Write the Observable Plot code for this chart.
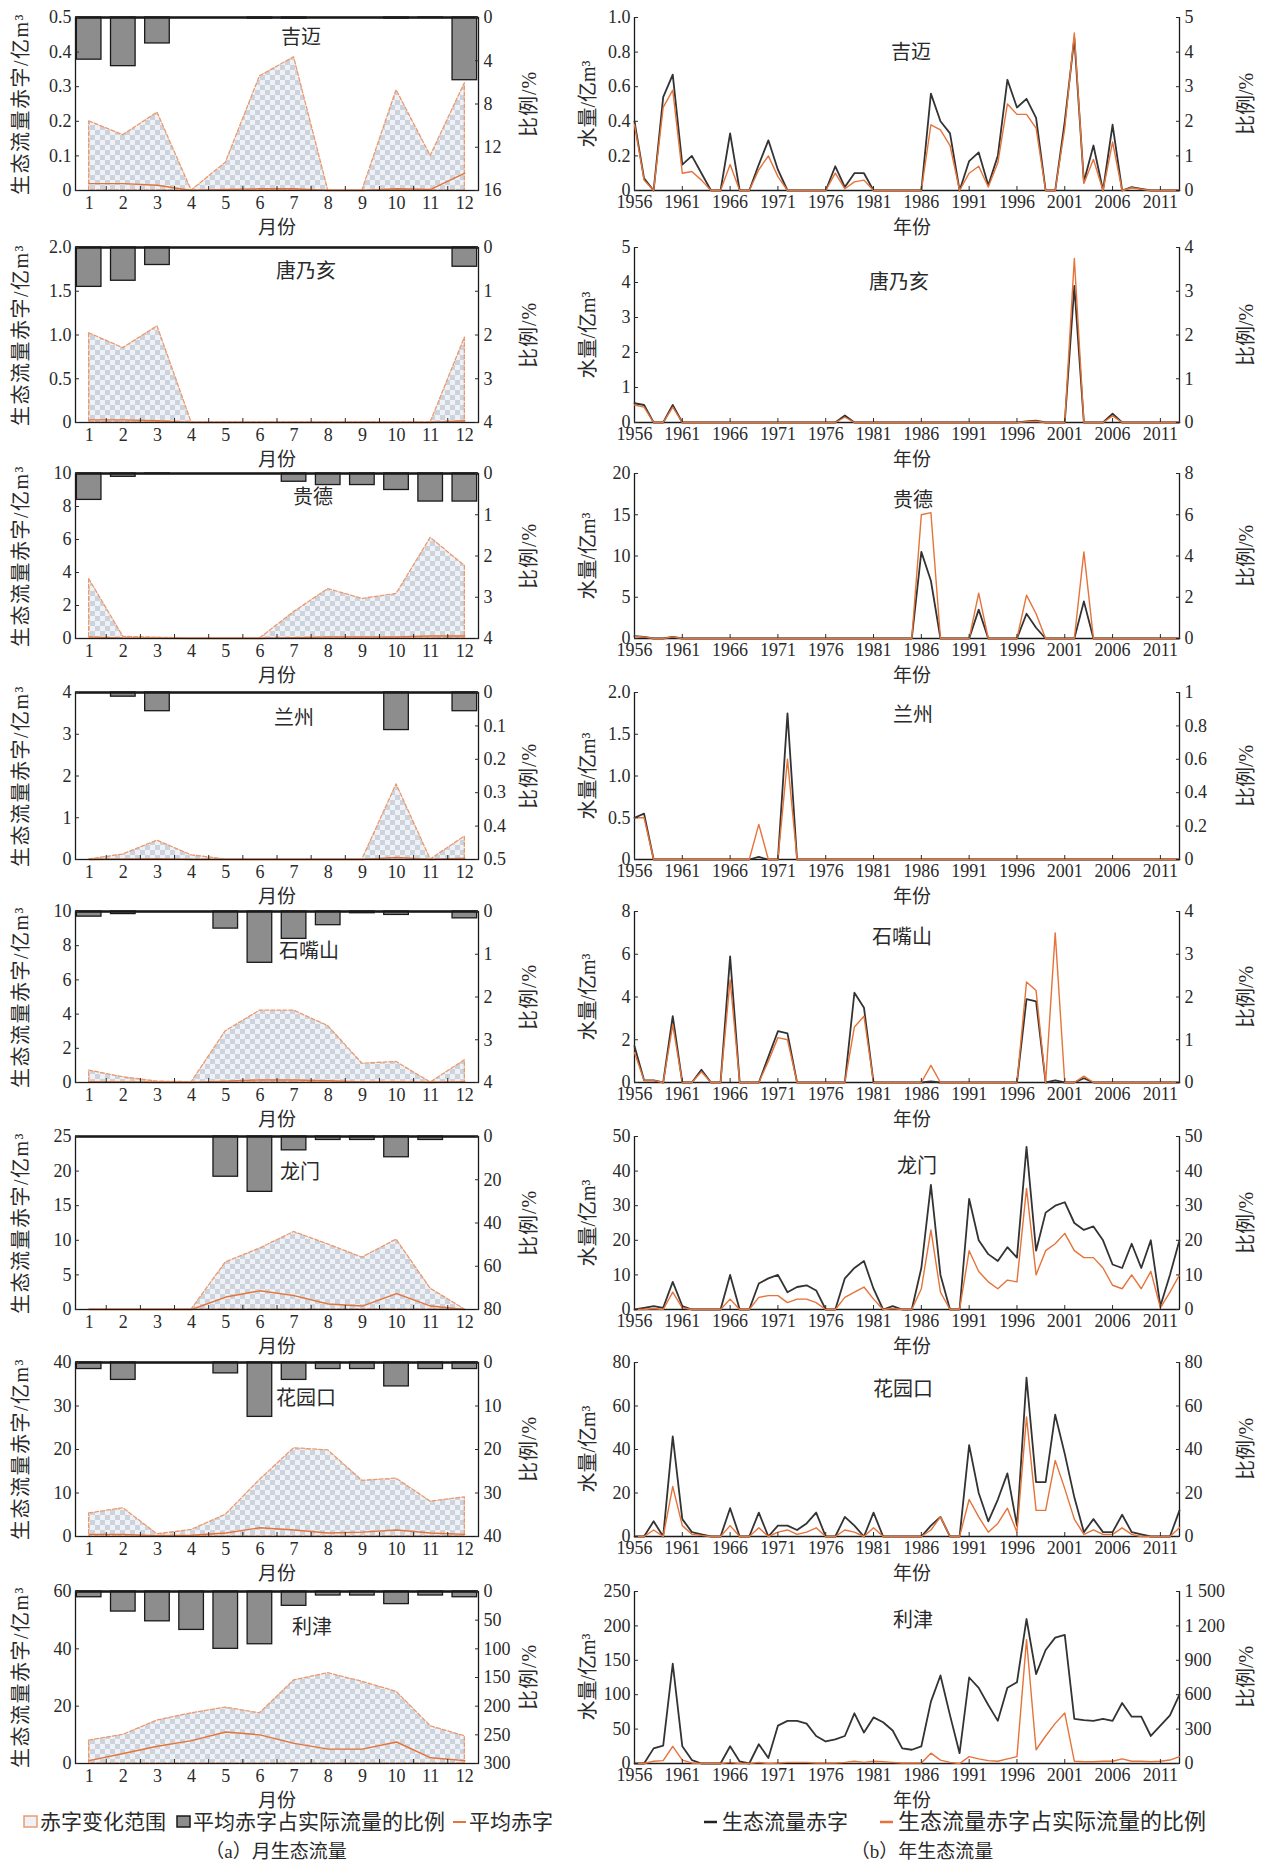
<!DOCTYPE html>
<html><head><meta charset="utf-8">
<script src="https://cdn.jsdelivr.net/npm/d3@7"></script>
<script src="https://cdn.jsdelivr.net/npm/@observablehq/plot@0.6"></script>
<style>
body{margin:0;background:#fff;}
#root{position:relative;width:1274px;height:1865px;background:#fff;overflow:hidden;font-family:"Liberation Serif","Noto Sans CJK SC",serif;color:#2a2a2a;}
.abs{position:absolute;white-space:nowrap;line-height:1;}
svg{position:absolute;overflow:visible;}
</style></head><body><div id="root"></div>
<script>
// ---------- categories ----------
const stations = ["吉迈","唐乃亥","贵德","兰州","石嘴山","龙门","花园口","利津"];
const months = [1,2,3,4,5,6,7,8,9,10,11,12];
const years = d3.range(1956, 2014); // 1956–2013

// ---------- monthly (a): max deficit (range), mean deficit, ratio % ----------
const jimaiMonMax   = [0.20,0.16,0.225,0,0.08,0.33,0.385,0,0,0.29,0.10,0.31];
const jimaiMonMean  = [0.02,0.02,0.015,0,0.003,0.005,0.005,0,0,0.005,0.003,0.05];
const jimaiMonRatio = [3.9,4.5,2.4,0,0,0.1,0.1,0,0,0.1,0.05,5.8];
const tangMonMax    = [1.02,0.85,1.10,0,0,0,0,0,0,0,0,0.97];
const tangMonMean   = [0.03,0.03,0.02,0,0,0,0,0,0,0,0,0.02];
const tangMonRatio  = [0.9,0.76,0.4,0,0,0,0,0,0,0,0,0.44];
const guideMonMax   = [3.6,0.1,0.05,0,0,0,1.6,3.0,2.4,2.7,6.1,4.4];
const guideMonMean  = [0.1,0.02,0.01,0,0,0,0.05,0.1,0.1,0.1,0.15,0.15];
const guideMonRatio = [0.64,0.08,0.01,0,0,0,0.2,0.28,0.28,0.4,0.68,0.68];
const lanzMonMax    = [0,0.12,0.45,0.1,0,0,0,0,0,1.8,0,0.55];
const lanzMonMean   = [0,0.01,0.02,0,0,0,0,0,0,0.05,0,0.03];
const lanzMonRatio  = [0,0.0125,0.056,0,0,0,0,0,0,0.1125,0,0.056];
const szsMonMax     = [0.7,0.3,0.05,0.02,3.0,4.2,4.2,3.3,1.1,1.2,0,1.3];
const szsMonMean    = [0.05,0.03,0,0,0.08,0.15,0.15,0.1,0.03,0.05,0,0.05];
const szsMonRatio   = [0.12,0.06,0,0,0.4,1.2,0.64,0.32,0.04,0.08,0,0.16];
const lmMonMax      = [0,0,0,0,6.8,8.8,11.2,9.4,7.5,10.1,3.0,0];
const lmMonMean     = [0,0,0,0,1.8,2.7,2.0,0.8,0.5,2.3,0.5,0];
const lmMonRatio    = [0,0,0,0,18.6,25.6,6.4,1.6,1.6,9.6,1.6,0];
const hykMonMax     = [5.3,6.5,0.5,1.5,5.0,13,20.3,19.8,12.8,13.3,8,9];
const hykMonMean    = [0.5,0.5,0.2,0.3,0.8,2.0,1.5,0.8,1.0,1.5,0.8,0.5];
const hykMonRatio   = [1.5,4,0,0,2.5,12.5,4,1.5,1.5,5.5,1.5,1.5];
const ljMonMax      = [8,10,15,17.5,19.5,17.5,29,31.5,28.5,25,13,9.5];
const ljMonMean     = [1,3.5,6,8,11,10,7,5,5,7.5,2,1];
const ljMonRatio    = [10,35,52,67,100,92,25,7,7,22,7,10];

// ---------- annual (b): deficit (亿m³) and ratio (%) ----------
const jimaiYrDef = [0.40,0.07,0,0.54,0.67,0.15,0.20,0.10,0,0, 0.33,0,0,0.15,0.29,0.12,0,0,0,0, 0,0.14,0.02,0.10,0.10,0,0,0,0,0, 0,0.56,0.40,0.33,0,0.17,0.22,0.03,0.20,0.64, 0.48,0.53,0.42,0,0,0.40,0.88,0.05,0.26,0, 0.38,0,0.02,0.01,0,0,0,0];
const jimaiYrRatio = [1.9,0.3,0,2.4,2.9,0.5,0.55,0.3,0,0, 0.75,0,0,0.6,1.0,0.4,0,0,0,0, 0,0.5,0.05,0.25,0.3,0,0,0,0,0, 0,1.9,1.75,1.3,0,0.5,0.7,0.1,0.8,2.5, 2.2,2.2,1.8,0,0,1.8,4.55,0.2,0.9,0, 1.4,0,0.08,0.04,0,0,0,0];
const tangYrDef = [0.55,0.5,0,0,0.5,0,0,0,0,0, 0,0,0,0,0,0,0,0,0,0, 0,0,0.2,0,0,0,0,0,0,0, 0,0,0,0,0,0,0,0,0,0, 0,0.03,0.05,0,0,0,3.9,0,0,0, 0.25,0,0,0,0,0,0,0];
const tangYrRatio = [0.4,0.35,0,0,0.35,0,0,0,0,0, 0,0,0,0,0,0,0,0,0,0, 0,0,0.12,0,0,0,0,0,0,0, 0,0,0,0,0,0,0,0,0,0, 0,0.02,0.03,0,0,0,3.75,0,0,0, 0.15,0,0,0,0,0,0,0];
const guideYrDef = [0.3,0.2,0,0,0.2,0,0,0,0,0, 0,0,0,0,0,0,0,0,0,0, 0,0,0,0,0,0,0,0,0,0, 10.5,7.0,0,0,0,0,3.5,0,0,0, 0,3.0,1.3,0,0,0,0,4.5,0,0, 0,0,0,0,0,0,0,0];
const guideYrRatio = [0.1,0.08,0,0,0.08,0,0,0,0,0, 0,0,0,0,0,0,0,0,0,0, 0,0,0,0,0,0,0,0,0,0, 6.0,6.1,0,0,0,0,2.2,0,0,0, 0,2.1,1.2,0,0,0,0,4.2,0,0, 0,0,0,0,0,0,0,0];
const lanzYrDef = [0.5,0.55,0,0,0,0,0,0,0,0, 0,0,0,0.03,0,0,1.75,0,0,0, 0,0,0,0,0,0,0,0,0,0, 0,0,0,0,0,0,0,0,0,0, 0,0,0,0,0,0,0,0,0,0, 0,0,0,0,0,0,0,0];
const lanzYrRatio = [0.25,0.25,0,0,0,0,0,0,0,0, 0,0,0,0.21,0,0,0.6,0,0,0, 0,0,0,0,0,0,0,0,0,0, 0,0,0,0,0,0,0,0,0,0, 0,0,0,0,0,0,0,0,0,0, 0,0,0,0,0,0,0,0];
const szsYrDef = [1.7,0.1,0.1,0,3.1,0,0,0.6,0,0, 5.9,0,0,0,1.2,2.4,2.3,0,0,0, 0,0,0,4.2,3.5,0,0,0,0,0, 0,0.05,0,0,0,0,0,0,0,0, 0,3.9,3.8,0,0.1,0,0,0.2,0,0, 0,0,0,0,0,0,0,0];
const szsYrRatio = [0.7,0.05,0.05,0,1.35,0,0,0.25,0,0, 2.4,0,0,0,0.5,1.05,1.0,0,0,0, 0,0,0,1.3,1.55,0,0,0,0,0, 0,0.4,0,0,0,0,0,0,0,0, 0,2.35,2.15,0,3.5,0,0,0.15,0,0, 0,0,0,0,0,0,0,0];
const lmYrDef = [0,0.5,1,0.5,8,1,0,0,0,0, 10,0,0,7.5,9,10,5,6.5,7,5.5, 0,0,9,12,14,6,0,1,0,0, 12,36,10,0,0,32,20,16,14,18, 15,47,17,28,30,31,25,23,24,20, 13,12,19,12,20,1,10,20];
const lmYrRatio = [0,0,0.3,0,5,0.5,0,0,0,0, 3,0,0,3.5,4,4,2,3,3,2, 0,0,3.5,5,6.5,3,0,0.3,0,0, 6,23,5,0,0,17,11,8,6,8.5, 8,35,10,17,19,22,17,15,15,12, 7,6,10,6,11,0.5,5,10];
const hykYrDef = [0,0,7,0,46,8,2,1,0,0, 13,0,0,11,0,5,5,3,6,11, 0,0,9,5,0,11,0,0,0,0, 0,5,9,0,0,42,20,7,17,29, 5,73,25,25,56,38,18,2,8,2, 2,10,2,1,0,0,0,12];
const hykYrRatio = [0,0,3,0,23,5,1,0.5,0,0, 5,0,0,4,0,2,3,1,2,4, 0,0,3,2,0,4,0,0,0,0, 0,3,9,0,0,17,9,2,6,13, 2,55,12,12,35,22,8,1,3,1, 1,4,1,0,0,0,0,4];
const ljYrDef = [0,0,22,26,145,25,5,0,0,0, 25,3,0,28,8,55,62,62,58,40, 32,35,40,73,45,67,60,48,22,20, 25,90,128,70,15,125,110,85,62,110, 118,210,130,165,183,187,65,63,62,65, 62,88,68,68,40,55,70,100];
const ljYrRatio = [0,0,20,25,150,30,5,0,0,0, 10,0,0,10,0,5,10,10,10,5, 5,5,10,20,10,20,15,10,5,5, 5,90,30,10,0,60,40,25,20,40, 60,1080,120,240,350,440,20,15,15,20, 20,40,20,20,15,20,30,60];

// ---------- axis scales (tick domains and steps) ----------
const monYMax  = [0.5,2,10,4,10,25,40,60];
const monYStep = [0.1,0.5,2,1,2,5,10,20];
const monRMax  = [16,4,4,0.5,4,80,40,300];
const monRStep = [4,1,1,0.1,1,20,10,50];
const yrYMax   = [1,5,20,2,8,50,80,250];
const yrYStep  = [0.2,1,5,0.5,2,10,20,50];
const yrRMax   = [5,4,8,1,4,50,80,1500];
const yrRStep  = [1,1,2,0.2,1,10,20,300];
const yearTicks = d3.range(1956, 2012, 5);

// tables built from the arrays above
const monMax   = [jimaiMonMax,tangMonMax,guideMonMax,lanzMonMax,szsMonMax,lmMonMax,hykMonMax,ljMonMax];
const monMean  = [jimaiMonMean,tangMonMean,guideMonMean,lanzMonMean,szsMonMean,lmMonMean,hykMonMean,ljMonMean];
const monRatio = [jimaiMonRatio,tangMonRatio,guideMonRatio,lanzMonRatio,szsMonRatio,lmMonRatio,hykMonRatio,ljMonRatio];
const yrDef    = [jimaiYrDef,tangYrDef,guideYrDef,lanzYrDef,szsYrDef,lmYrDef,hykYrDef,ljYrDef];
const yrRatio  = [jimaiYrRatio,tangYrRatio,guideYrRatio,lanzYrRatio,szsYrRatio,lmYrRatio,hykYrRatio,ljYrRatio];

// ---------- layout ----------
const frameTop = [17,247,473,692,911,1136,1362,1591];
const frameH   = [173,175,165,167,171,173,174,172];
const nameLeft  = [[301,20],[306,24],[313,24],[294,26],[309,40],[300,36],[306,36],[312,36]];
const nameRight = [[911,35],[899,35],[913,27],[913,23],[902,26],[917,30],[903,27],[913,29]];
const MT = 12, MB = 50;
const FONT = '"Liberation Serif","Noto Sans CJK SC",serif';
const ORANGE = "#e5733a", ORANGE_L = "#eb9a70", INK = "#2a2a2a";

const root = document.getElementById("root");
function addText(txt, x, y, size, rot, spacing) {
  const d = document.createElement("div");
  d.className = "abs";
  d.textContent = txt;
  d.style.left = x + "px"; d.style.top = y + "px"; d.style.fontSize = size + "px";
  if (spacing) d.style.letterSpacing = spacing + "px";
  d.style.transform = "translate(-50%,-50%)" + (rot ? ` rotate(${rot}deg)` : "");
  root.appendChild(d);
  return d;
}
function decs(step) { const s = String(step); return s.includes(".") ? s.split(".")[1].length : 0; }
function fmtL(step) { const k = decs(step); return v => Math.abs(v) < 1e-9 ? "0" : v.toFixed(k); }
function fmtR(v) {
  const n = +v.toFixed(6);
  if (n >= 1000) return String(Math.floor(n / 1000)) + " " + String(n % 1000).padStart(3, "0");
  return String(n);
}
function rightAxis(ymax, rmax, rstep, opts) {
  const rT = d3.range(0, rmax + rstep / 2, rstep);
  const toY = opts.reversed ? r => ymax * (1 - r / rmax) : r => r * ymax / rmax;
  const pos = rT.map(toY);
  return Plot.axisY({anchor: "right", ticks: pos, tickSize: -4, tickPadding: 9, label: null,
    tickFormat: d => { const k = pos.findIndex(p => Math.abs(p - d) < 1e-9); return k < 0 ? "" : fmtR(rT[k]); }});
}

function monPanel(i) {
  const ymax = monYMax[i], rmax = monRMax[i];
  const data = months.map((m, k) => ({m, max: monMax[i][k], mean: monMean[i][k], ratio: monRatio[i][k]}));
  const toY = r => ymax * (1 - r / rmax);
  const yT = d3.range(0, ymax + monYStep[i] / 2, monYStep[i]);
  const svg = Plot.plot({
    width: 560, height: MT + frameH[i] + MB,
    marginLeft: 75, marginRight: 82, marginTop: MT, marginBottom: MB,
    style: {fontFamily: FONT, fontSize: "18px", color: INK, background: "transparent", overflow: "visible"},
    x: {domain: [0.6, 12.4]},
    y: {domain: [0, ymax]},
    marks: [
      Plot.areaY(data, {x: "m", y1: 0, y2: "max", fill: `url(#chk${i})`, stroke: ORANGE_L, strokeWidth: 1.3, strokeDasharray: "4,2"}),
      Plot.lineY(data, {x: "m", y: "mean", stroke: ORANGE, strokeWidth: 1.4}),
      Plot.rect(data.filter(d => d.ratio > 0), {x1: d => d.m - 0.36, x2: d => d.m + 0.36, y1: ymax, y2: d => toY(d.ratio), fill: "#8d8d8d", stroke: "#1a1a1a", strokeWidth: 1.3}),
      Plot.frame({stroke: "#1a1a1a", strokeWidth: 1.3}),
      Plot.ruleY([ymax], {stroke: "#1a1a1a", strokeWidth: 2.5}),
      Plot.axisX({ticks: d3.range(1.5, 12, 1), tickSize: -4, tickFormat: () => "", label: null}),
      Plot.axisX({ticks: months, tickSize: 0, tickPadding: 6, tickFormat: d => String(d), label: null}),
      Plot.axisY({ticks: yT, tickSize: -4, tickPadding: 8, tickFormat: fmtL(monYStep[i]), label: null}),
      rightAxis(ymax, rmax, monRStep[i], {reversed: true})
    ]
  });
  const defs = document.createElementNS("http://www.w3.org/2000/svg", "defs");
  defs.innerHTML = `<pattern id="chk${i}" width="10" height="10" patternUnits="userSpaceOnUse"><rect width="10" height="10" fill="#eef1f5"/><rect width="5" height="5" fill="#cdd3dc"/><rect x="5" y="5" width="5" height="5" fill="#cdd3dc"/></pattern>`;
  svg.insertBefore(defs, svg.firstChild);
  svg.style.left = "0px"; svg.style.top = (frameTop[i] - MT) + "px";
  root.appendChild(svg);
  const cy = frameTop[i] + frameH[i] / 2;
  addText("生态流量赤字/亿m³", 21, cy, 20, -90, 1.5);
  addText("比例/%", 529, cy, 20, -90, 1);
  addText("月份", 277, frameTop[i] + frameH[i] + 37, 19);
  addText(stations[i], nameLeft[i][0], frameTop[i] + nameLeft[i][1], 20);
}

function yrPanel(i) {
  const ymax = yrYMax[i], rmax = yrRMax[i];
  const data = years.map((y, k) => ({y, def: yrDef[i][k], r: yrRatio[i][k]}));
  const yT = d3.range(0, ymax + yrYStep[i] / 2, yrYStep[i]);
  const svg = Plot.plot({
    width: 714, height: MT + frameH[i] + MB,
    marginLeft: 74, marginRight: 95, marginTop: MT, marginBottom: MB,
    style: {fontFamily: FONT, fontSize: "18px", color: INK, background: "transparent", overflow: "visible"},
    x: {domain: [1956, 2013]},
    y: {domain: [0, ymax]},
    marks: [
      Plot.ruleY([0], {stroke: "#1a1a1a", strokeWidth: 1.3}),
      Plot.ruleX([1956, 2013], {stroke: "#1a1a1a", strokeWidth: 1.3}),
      Plot.lineY(data, {x: "y", y: "def", stroke: "#333", strokeWidth: 1.8}),
      Plot.lineY(data, {x: "y", y: d => d.r * ymax / rmax, stroke: ORANGE, strokeWidth: 1.4}),
      Plot.axisX({ticks: yearTicks, tickSize: -4, tickPadding: 9, tickFormat: d => String(d), label: null}),
      Plot.axisY({ticks: yT, tickSize: -4, tickPadding: 8, tickFormat: fmtL(yrYStep[i]), label: null}),
      rightAxis(ymax, rmax, yrRStep[i], {reversed: false})
    ]
  });
  svg.style.left = "560px"; svg.style.top = (frameTop[i] - MT) + "px";
  root.appendChild(svg);
  const cy = frameTop[i] + frameH[i] / 2;
  addText("水量/亿m³", 588, cy, 20, -90);
  addText("比例/%", 1246, cy, 20, -90);
  addText("年份", 912, frameTop[i] + frameH[i] + 37, 19);
  addText(stations[i], nameRight[i][0], frameTop[i] + nameRight[i][1], 20);
}

try {
  for (let i = 0; i < stations.length; i++) { monPanel(i); yrPanel(i); }
} catch (e) {
  addText("ERROR: " + e.message, 600, 900, 20);
}

// ---------- legends & captions ----------
function swatch(html, x, y) {
  const d = document.createElement("div");
  d.className = "abs";
  d.innerHTML = html;
  d.style.left = x + "px"; d.style.top = (y - 7) + "px";
  root.appendChild(d);
}
function legendText(txt, x, y, size) {
  const d = addText(txt, x, y, size);
  d.style.transform = "translateY(-50%)";
}
const LY = 1822;
swatch(`<svg width="15" height="13" style="position:static"><rect x="1" y="1" width="13" height="11" fill="#eef1f5" stroke="${ORANGE_L}" stroke-width="1.5"/></svg>`, 23, LY);
legendText("赤字变化范围", 40, LY, 21);
swatch(`<svg width="15" height="13" style="position:static"><rect x="1" y="1" width="13" height="11" fill="#8d8d8d" stroke="#1a1a1a" stroke-width="1.5"/></svg>`, 176, LY);
legendText("平均赤字占实际流量的比例", 193, LY, 21);
swatch(`<svg width="15" height="13" style="position:static"><line x1="1" y1="7" x2="14" y2="7" stroke="${ORANGE}" stroke-width="2"/></svg>`, 452, LY);
legendText("平均赤字", 469, LY, 21);

swatch(`<svg width="15" height="13" style="position:static"><line x1="1" y1="7" x2="14" y2="7" stroke="#222" stroke-width="2.5"/></svg>`, 703, LY);
legendText("生态流量赤字", 722, LY, 21);
swatch(`<svg width="15" height="13" style="position:static"><line x1="1" y1="7" x2="14" y2="7" stroke="${ORANGE}" stroke-width="2.5"/></svg>`, 879, LY);
legendText("生态流量赤字占实际流量的比例", 898, LY, 22);

addText("（a）月生态流量", 276, 1851, 19);
addText("（b）年生态流量", 922, 1851, 19);
</script>
</body></html>
